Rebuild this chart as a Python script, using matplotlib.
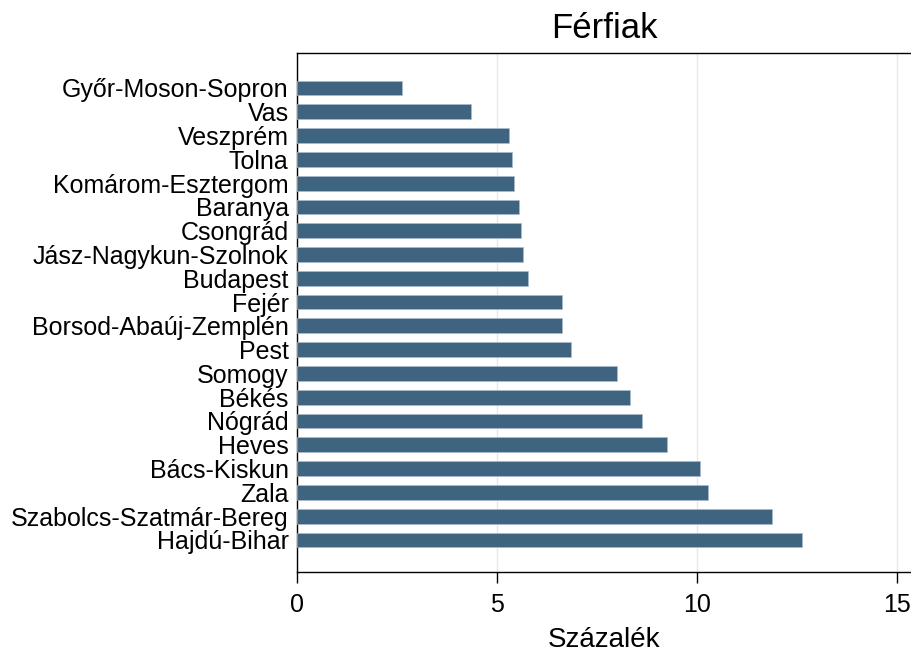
import numpy as np
import matplotlib.pyplot as plt

plt.rcParams['font.family'] = ['Liberation Sans', 'DejaVu Sans']

# megyék (felülről lefelé) és százalékos értékek
megyek = ["Győr-Moson-Sopron", "Vas", "Veszprém", "Tolna", "Komárom-Esztergom",
          "Baranya", "Csongrád", "Jász-Nagykun-Szolnok", "Budapest", "Fejér",
          "Borsod-Abaúj-Zemplén", "Pest", "Somogy", "Békés", "Nógrád",
          "Heves", "Bács-Kiskun", "Zala", "Szabolcs-Szatmár-Bereg", "Hajdú-Bihar"]
ertekek = [2.63, 4.36, 5.29, 5.37, 5.42, 5.54, 5.59, 5.64, 5.77, 6.62,
           6.62, 6.85, 8.00, 8.33, 8.63, 9.26, 10.08, 10.28, 11.89, 12.62]
xtick_ertekek = [0, 5, 10, 15]

fig = plt.figure(figsize=(9.12, 6.53), dpi=100)
ax = fig.add_axes([0.3257, 0.124, 0.6743, 0.7948])

n = len(megyek)
y = np.arange(n)[::-1]
ax.barh(y, ertekek, height=0.62, color='#3e6480', edgecolor='#a9bccb', linewidth=0.5, zorder=3)

ax.set_yticks(y)
ax.set_yticklabels(megyek, fontsize=18)
ax.tick_params(axis='y', length=0, pad=6)
ax.set_ylim(-1.35, n - 1 + 1.47)

ax.set_xlim(0, 15.38)
ax.set_xticks(xtick_ertekek)
ax.tick_params(axis='x', labelsize=18, length=8, width=1.0, pad=7)
ax.grid(axis='x', color='#e8e8e8', linewidth=1, zorder=0)

for s in ['left', 'top', 'bottom']:
    ax.spines[s].set_linewidth(1.0)
ax.spines['right'].set_visible(False)

ax.set_xlabel("Százalék", fontsize=20, labelpad=7)
ax.set_title("Férfiak", fontsize=25, pad=11)

fig.savefig("out.png", dpi=100)
